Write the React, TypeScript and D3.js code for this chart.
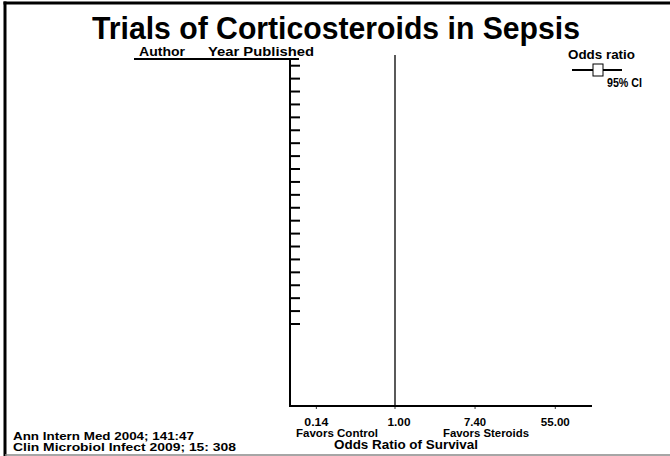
import React from "react";
import * as d3 from "d3";

const title = "Trials of Corticosteroids in Sepsis";
const headerLabels = ["Author", "Year Published"];
const trialRows = [1, 2, 3, 4, 5, 6, 7, 8, 9, 10, 11, 12, 13, 14, 15, 16, 17, 18, 19, 20, 21];
const xTickValues = [0.14, 1.0, 7.4, 55.0];
const xTickLabels = ["0.14", "1.00", "7.40", "55.00"];
const favorLabels = ["Favors Control", "Favors Steroids"];
const xAxisTitle = "Odds Ratio of Survival";
const legendLabels = ["Odds ratio", "95% CI"];
const citations = ["Ann Intern Med 2004; 141:47", "Clin Microbiol Infect 2009; 15: 308"];

const W = 670;
const H = 456;
const FONT = "'Liberation Sans', Arial, Helvetica, sans-serif";

export default function App() {
  const plotLeft = 290;
  const plotRight = 592;
  const plotTop = 59;
  const plotBottom = 406;
  const x = d3
    .scaleLog()
    .domain([Math.exp(-2.625), Math.exp(4.925)])
    .range([plotLeft, plotRight]);
  const y = d3.scaleLinear().domain([1, 21]).range([65.7, 324]);

  const tickLabelWidths = [24, 23, 22, 29];
  const tickLabelOffsets = [0, 4, 0, 0];

  return (
    <svg
      width={W}
      height={H}
      style={{ position: "absolute", left: 0, top: 0, background: "#fff" }}
      fontFamily={FONT}
      fontWeight="bold"
    >
      {/* frame */}
      <line x1={5} y1={1.5} x2={5} y2={H} stroke="#000" strokeWidth={3} />
      <line x1={3.5} y1={3} x2={W} y2={3} stroke="#000" strokeWidth={3} />
      <line x1={5} y1={455} x2={W} y2={455} stroke="#888" strokeWidth={1.5} />

      {/* title */}
      <text
        x={92}
        y={38.5}
        fontSize={32}
        fill="#000"
        textLength={488}
        lengthAdjust="spacingAndGlyphs"
      >
        {title}
      </text>

      {/* header */}
      <text x={139} y={56} fontSize={13} fill="#000" textLength={46} lengthAdjust="spacingAndGlyphs">
        {headerLabels[0]}
      </text>
      <text x={208} y={56} fontSize={13} fill="#000" textLength={106} lengthAdjust="spacingAndGlyphs">
        {headerLabels[1]}
      </text>
      <line x1={134} y1={59} x2={299} y2={59} stroke="#000" strokeWidth={2} />

      {/* y axis */}
      <line x1={290} y1={plotTop} x2={290} y2={plotBottom + 1} stroke="#000" strokeWidth={2} />
      {trialRows.map((r) => (
        <line key={r} x1={290} x2={300} y1={y(r)} y2={y(r)} stroke="#000" strokeWidth={2} />
      ))}

      {/* x axis */}
      <line x1={289} y1={plotBottom} x2={plotRight} y2={plotBottom} stroke="#000" strokeWidth={2} />
      {xTickValues.map((v, i) => (
        <g key={v}>
          <line x1={x(v)} x2={x(v)} y1={plotBottom} y2={plotBottom + 3} stroke="#000" strokeWidth={0.8} />
          <text
            x={x(v) + tickLabelOffsets[i] - tickLabelWidths[i] / 2}
            y={425.5}
            fontSize={11}
            fill="#000"
            textLength={tickLabelWidths[i]}
            lengthAdjust="spacingAndGlyphs"
          >
            {xTickLabels[i]}
          </text>
        </g>
      ))}

      {/* line of no effect */}
      <line x1={x(1)} x2={x(1)} y1={55} y2={plotBottom} stroke="#000" strokeWidth={1.3} />

      <text x={296} y={436.5} fontSize={11} fill="#000" textLength={82} lengthAdjust="spacingAndGlyphs">
        {favorLabels[0]}
      </text>
      <text x={443} y={436.5} fontSize={11} fill="#000" textLength={86} lengthAdjust="spacingAndGlyphs">
        {favorLabels[1]}
      </text>
      <text x={334} y={448.5} fontSize={13} fill="#000" textLength={144} lengthAdjust="spacingAndGlyphs">
        {xAxisTitle}
      </text>

      {/* legend */}
      <text x={568} y={59} fontSize={12.5} fill="#000" textLength={67} lengthAdjust="spacingAndGlyphs">
        {legendLabels[0]}
      </text>
      <line x1={572} x2={622} y1={70} y2={70} stroke="#000" strokeWidth={2} />
      <rect x={593} y={64} width={10} height={12} fill="#fff" stroke="#000" strokeWidth={1} />
      <text x={607} y={87} fontSize={12} fill="#000" textLength={35} lengthAdjust="spacingAndGlyphs">
        {legendLabels[1]}
      </text>

      {/* citations */}
      <text x={13} y={439.5} fontSize={11.5} fill="#000" textLength={181} lengthAdjust="spacingAndGlyphs">
        {citations[0]}
      </text>
      <text x={13} y={451} fontSize={11.5} fill="#000" textLength={223} lengthAdjust="spacingAndGlyphs">
        {citations[1]}
      </text>
    </svg>
  );
}
